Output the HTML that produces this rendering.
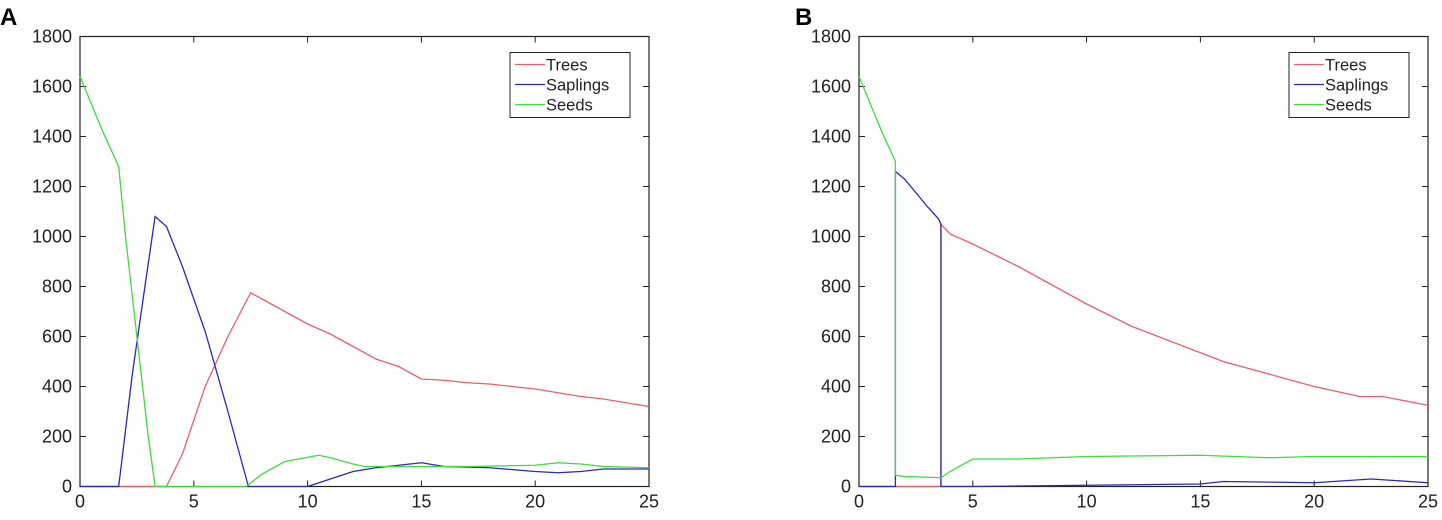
<!DOCTYPE html>
<html><head><meta charset="utf-8"><style>
body{margin:0;background:#fff;width:1442px;height:515px;overflow:hidden}
svg{font-family:"Liberation Sans",sans-serif}
</style></head><body>
<svg id="chart" width="1442" height="515"></svg>
<script>
const xTicks=[0,5,10,15,20,25];
const yTicks=[0,200,400,600,800,1000,1200,1400,1600,1800];
const seriesNames=["Trees","Saplings","Seeds"];
const aTreesX=[0,3.8,4.5,5.5,6.5,7.5,8,9,10,11,12,13,14,15,16,17,18,19,20,21,22,23,24,25];
const aTreesY=[0,0,130,400,600,775,750,700,650,610,560,510,480,430,425,415,410,400,390,375,360,350,335,320];
const aSapX=[0,1.7,2.3,2.9,3.3,3.8,4.5,5.5,6.5,7.4,10,11,12,13,14,15,16,18,20,21,22,23,25];
const aSapY=[0,0,450,830,1080,1040,880,620,300,0,0,30,60,75,85,95,80,75,60,55,60,70,70];
const aSeedX=[0,0.5,1,1.7,2.0,2.5,3.0,3.3,7.3,8,9,10.5,11,12,12.5,15,17,20,21,22,23,25];
const aSeedY=[1640,1530,1420,1280,1000,600,200,0,0,50,100,125,115,90,80,80,80,85,95,90,80,75];
const bTreesX=[0,3.6,3.6,4,5,7,8,10,12,14,16,18,20,22,23,25];
const bTreesY=[0,0,1050,1010,970,880,830,730,640,570,500,450,400,360,360,325];
const bSapX=[0,1.6,1.6,2,3,3.5,3.6,3.6,5,10,15,16,20,22.5,25];
const bSapY=[0,0,1260,1230,1120,1070,1050,0,0,5,10,20,15,30,15];
const bSeedX=[0,1,1.5,1.6,1.6,2,3.6,4,5,7,10,15,18,20,25];
const bSeedY=[1640,1420,1320,1300,45,40,35,60,110,110,120,125,115,120,120];
const colors=["#e8606c","#2a2ab8","#3cdc3c"];
const NS="http://www.w3.org/2000/svg";
const svg=document.getElementById('chart');
function mk(t,a,p){const e=document.createElementNS(NS,t);for(const k in a)e.setAttribute(k,a[k]);(p||svg).appendChild(e);return e;}
function panel(id,L,R,letterX,series){
  const T=36.5,B=486.5;
  const g=mk('g',{});
  
  
  const sx=v=>L+(R-L)*v/25, sy=v=>B-(B-T)*v/1800;
  const lt=mk('text',{x:letterX,y:25,'font-size':24,'font-weight':'bold',fill:'#000'},g);lt.textContent=id;
  
  
  mk('rect',{x:L,y:T,width:R-L,height:B-T,fill:'#fff',stroke:'#222','stroke-width':1.2},g);
  xTicks.forEach(v=>{const x=sx(v);
    mk('line',{x1:x,x2:x,y1:B,y2:B-6,stroke:'#222'},g);mk('line',{x1:x,x2:x,y1:T,y2:T+6,stroke:'#222'},g);
    const t=mk('text',{x:x,y:B+21,'font-size':18,'text-anchor':'middle',fill:'#222'},g);t.textContent=v;
    
    });
  yTicks.forEach(v=>{const y=sy(v);
    mk('line',{x1:L,x2:L+6,y1:y,y2:y,stroke:'#222'},g);mk('line',{x1:R,x2:R-6,y1:y,y2:y,stroke:'#222'},g);
    const t=mk('text',{x:L-8,y:y+6,'font-size':18,'text-anchor':'end',fill:'#222'},g);t.textContent=v;
    
    });
  series.forEach((s,i)=>{
    const p=mk('polyline',{points:s[0].map((x,j)=>sx(x)+','+sy(s[1][j])).join(' '),fill:'none',stroke:colors[i],'stroke-width':1.3},g);
    
    });
  const lx=R-139, ly=T+16;
  const lg=mk('g',{},g);
  
  
  mk('rect',{x:lx,y:ly,width:120,height:65,fill:'#fff',stroke:'#222'},lg);
  seriesNames.forEach((n,i)=>{const y=ly+12+i*20;
    mk('line',{x1:lx+5,x2:lx+35,y1:y,y2:y,stroke:colors[i],'stroke-width':1.2},lg);
    const t=mk('text',{x:lx+36,y:y+6,'font-size':16.5,fill:'#222'},lg);t.textContent=n;
    
    });
}
panel('A',80,649,0,[[aTreesX,aTreesY],[aSapX,aSapY],[aSeedX,aSeedY]]);
panel('B',859,1428,795,[[bTreesX,bTreesY],[bSapX,bSapY],[bSeedX,bSeedY]]);
</script>
</body></html>
